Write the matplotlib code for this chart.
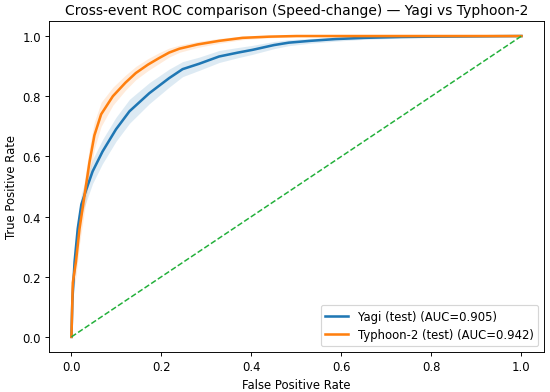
import matplotlib.pyplot as plt
import numpy as np

# ROC points
yagi_fpr = [0, 0.002, 0.007, 0.014, 0.022, 0.033, 0.047, 0.069, 0.099, 0.129, 0.173, 0.217,
            0.247, 0.284, 0.328, 0.37, 0.402, 0.45, 0.483, 0.53, 0.587, 0.65, 0.734,
            0.8, 0.9, 1.0]
yagi_tpr = [0, 0.12, 0.25, 0.36, 0.44, 0.49, 0.55, 0.616, 0.69, 0.75, 0.81, 0.86,
            0.89, 0.908, 0.932, 0.945, 0.954, 0.97, 0.978, 0.984, 0.99, 0.994, 0.997,
            0.998, 0.999, 1.0]
yagi_band = [0, 0.02, 0.03, 0.03, 0.035, 0.04, 0.04, 0.04, 0.04, 0.04, 0.035, 0.03,
             0.025, 0.022, 0.02, 0.017, 0.015, 0.012, 0.01, 0.008, 0.007, 0.005, 0.004,
             0.003, 0.002, 0.0]

typhoon_fpr = [0, 0.003, 0.01, 0.018, 0.029, 0.04, 0.051, 0.066, 0.092, 0.12, 0.143,
               0.17, 0.195, 0.217, 0.24, 0.28, 0.328, 0.38, 0.439, 0.5, 0.6, 0.8, 1.0]
typhoon_tpr = [0, 0.18, 0.25, 0.36, 0.47, 0.58, 0.67, 0.74, 0.80, 0.845, 0.877,
               0.905, 0.927, 0.945, 0.958, 0.972, 0.984, 0.994, 0.998, 1.0, 1.0, 1.0, 1.0]
typhoon_band = [0, 0.04, 0.05, 0.05, 0.05, 0.05, 0.045, 0.04, 0.03, 0.025, 0.022,
                0.02, 0.018, 0.015, 0.012, 0.01, 0.008, 0.006, 0.004, 0.002, 0.0, 0.0, 0.0]

labels = ["Yagi (test) (AUC=0.905)", "Typhoon-2 (test) (AUC=0.942)"]

DPI = 83.5
fig = plt.figure(figsize=(550 / DPI, 393 / DPI), dpi=DPI)
ax = fig.add_axes([0.089, 0.102, 0.9, 0.842])

for fpr, tpr, band, color, label in [
        (yagi_fpr, yagi_tpr, yagi_band, "#1f77b4", labels[0]),
        (typhoon_fpr, typhoon_tpr, typhoon_band, "#ff7f0e", labels[1])]:
    fpr = np.array(fpr)
    tpr = np.array(tpr)
    band = np.array(band)
    ax.fill_between(fpr, np.clip(tpr - band, 0, 1), np.clip(tpr + band, 0, 1),
                    color=color, alpha=0.15, linewidth=0)
    ax.plot(fpr, tpr, color=color, linewidth=2.2, label=label)

ax.plot([0, 1], [0, 1], linestyle="--", color="#22b03a", linewidth=1.3)

ax.set_xlabel("False Positive Rate")
ax.set_ylabel("True Positive Rate")
ax.set_title("Cross-event ROC comparison (Speed-change) — Yagi vs Typhoon-2")
ax.legend(loc="lower right")

fig.savefig("out.png", dpi=DPI)
